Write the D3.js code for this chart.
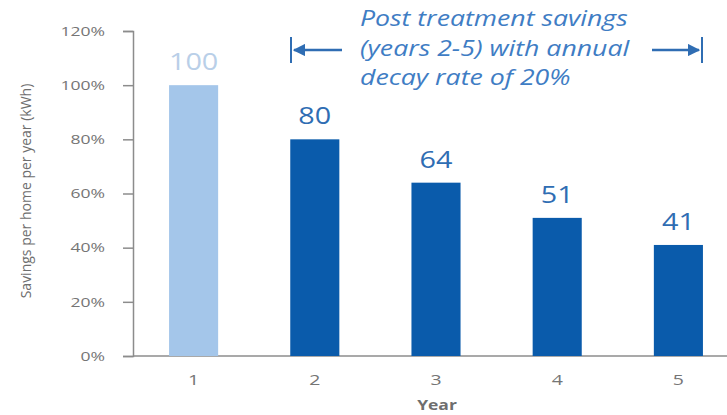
<!DOCTYPE html>
<html>
<head>
<meta charset="utf-8">
<script src="https://cdn.jsdelivr.net/npm/d3@7"></script>
<style>
  body { margin: 0; background: #fff; }
  text { font-family: "Open Sans", sans-serif; }
</style>
</head>
<body>
<div id="chart"></div>
<script>
const years = ["1", "2", "3", "4", "5"]
const savings = [100, 80, 64, 51, 41]
const yTicks = [0, 20, 40, 60, 80, 100, 120]
const noteLines = ["Post treatment savings", "(years 2-5) with annual", "decay rate of 20%"]

const width = 727, height = 415

// the source picture is stretched sideways, so text gets a horizontal scale
const stretch = 1.3

const svg = d3.select("#chart").append("svg")
    .attr("width", width)
    .attr("height", height)

const data = years.map((y, i) => ({year: y, value: savings[i]}))

const xScale = d3.scaleBand()
    .domain(years)
    .range([133, 739])
    .paddingInner(0.595)
    .paddingOuter(0.2975)

const yScale = d3.scaleLinear()
    .domain([0, 120])
    .range([356, 31])

function wideText(sel, x, y, sx) {
    return sel.attr("transform", (d, i) => `translate(${x(d, i)},${y(d, i)}) scale(${sx},1)`)
}

// y axis
const yAxis = d3.axisLeft(yScale)
    .tickValues(yTicks)
    .tickSize(10)
    .tickPadding(18)
    .tickFormat(d => d + "%")

const gy = svg.append("g")
    .attr("transform", "translate(133,0)")
    .call(yAxis)
gy.select(".domain").attr("stroke", "#8c8c8c").attr("stroke-width", 1.5)
gy.selectAll(".tick line").attr("stroke", "#8c8c8c").attr("stroke-width", 1.5)
gy.selectAll(".tick text")
    .attr("fill", "#757575")
    .attr("font-size", 13)
    .attr("font-family", "Open Sans, sans-serif")
    .attr("x", -28 / 1.35)
    .attr("transform", "scale(1.35,1)")

// x axis
svg.append("line")
    .attr("x1", 133).attr("x2", width)
    .attr("y1", yScale(0)).attr("y2", yScale(0))
    .attr("stroke", "#8c8c8c")
    .attr("stroke-width", 1.5)

svg.selectAll(".xlab")
    .data(years)
    .enter()
    .append("text")
    .attr("class", "xlab")
    .attr("text-anchor", "middle")
    .attr("font-size", 15)
    .attr("fill", "#757575")
    .text(d => d)
    .call(wideText, d => xScale(d) + xScale.bandwidth() / 2, () => 385, stretch)

svg.append("text")
    .attr("text-anchor", "middle")
    .attr("font-size", 14)
    .attr("font-weight", "bold")
    .attr("fill", "#6e6e6e")
    .attr("transform", `translate(437,410) scale(1.25,1)`)
    .text("Year")

svg.append("text")
    .attr("transform", "translate(31,191) rotate(-90)")
    .attr("text-anchor", "middle")
    .attr("font-size", 14)
    .attr("fill", "#6e6e6e")
    .text("Savings per home per year (kWh)")

// bars
svg.selectAll(".bar")
    .data(data)
    .enter()
    .append("rect")
    .attr("class", "bar")
    .attr("x", d => xScale(d.year))
    .attr("y", d => yScale(d.value))
    .attr("width", xScale.bandwidth())
    .attr("height", d => yScale(0) - yScale(d.value))
    .attr("fill", (d, i) => i == 0 ? "#a4c6ea" : "#0a5bab")

svg.selectAll(".val")
    .data(data)
    .enter()
    .append("text")
    .attr("class", "val")
    .attr("text-anchor", "middle")
    .attr("font-size", 23)
    .attr("fill", (d, i) => i == 0 ? "#b9cfe8" : "#2f6db3")
    .text(d => d.value)
    .call(wideText, d => xScale(d.year) + xScale.bandwidth() / 2, d => yScale(d.value) - 15, 1.25)

// annotation
svg.selectAll(".note")
    .data(noteLines)
    .enter()
    .append("text")
    .attr("class", "note")
    .attr("text-anchor", "start")
    .attr("font-size", 21)
    .attr("font-style", "italic")
    .attr("fill", "#3f7dc4")
    .text(d => d)
    .call(wideText, () => 360, (d, i) => 26 + i * 29.5, 1.27)

const defs = svg.append("defs")
defs.append("marker")
    .attr("id", "head")
    .attr("viewBox", "0 0 10 10")
    .attr("refX", 9).attr("refY", 5)
    .attr("markerWidth", 5).attr("markerHeight", 5)
    .attr("orient", "auto-start-reverse")
  .append("path")
    .attr("d", "M0,0 L10,5 L0,10 z")
    .attr("fill", "#2f6db3")

const arrowColor = "#2f6db3"
const arrowY = 50

// left arrow
svg.append("line")
    .attr("x1", 291).attr("x2", 291).attr("y1", 37).attr("y2", 63)
    .attr("stroke", arrowColor).attr("stroke-width", 2)
svg.append("line")
    .attr("x1", 342).attr("x2", 294).attr("y1", arrowY).attr("y2", arrowY)
    .attr("stroke", arrowColor).attr("stroke-width", 2.5)
    .attr("marker-end", "url(#head)")

// right arrow
svg.append("line")
    .attr("x1", 702).attr("x2", 702).attr("y1", 37).attr("y2", 63)
    .attr("stroke", arrowColor).attr("stroke-width", 2)
svg.append("line")
    .attr("x1", 652).attr("x2", 699).attr("y1", arrowY).attr("y2", arrowY)
    .attr("stroke", arrowColor).attr("stroke-width", 2.5)
    .attr("marker-end", "url(#head)")
</script>
</body>
</html>
